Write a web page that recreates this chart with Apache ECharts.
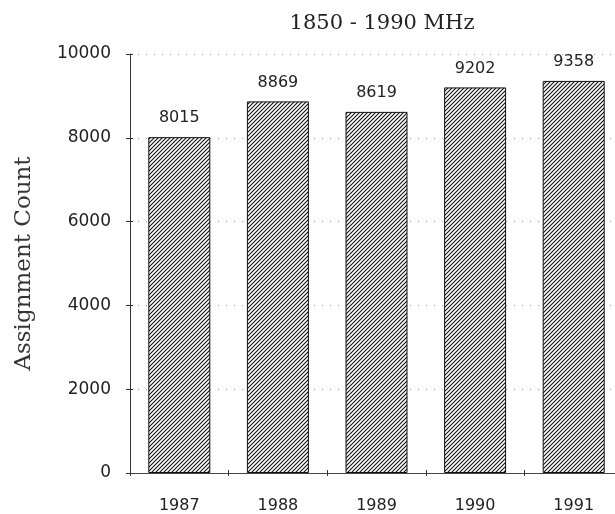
<!DOCTYPE html>
<html>
<head>
<meta charset="utf-8">
<script src="https://cdn.jsdelivr.net/npm/echarts@6/dist/echarts.min.js"></script>
<style>
  html, body { margin: 0; padding: 0; background: #fff; }
  #chart { width: 615px; height: 514px; }
</style>
</head>
<body>
<div id="chart"></div>
<script>
// chart data
const years = ['1987', '1988', '1989', '1990', '1991'];
const counts = [8015, 8869, 8619, 9202, 9358];
const yTicks = [0, 2000, 4000, 6000, 8000, 10000];

// diagonal hatch fill for the bars
function hatch() {
  const s = 4;
  const c = document.createElement('canvas');
  c.width = s;
  c.height = s;
  const ctx = c.getContext('2d');
  ctx.fillStyle = '#fff';
  ctx.fillRect(0, 0, s, s);
  ctx.strokeStyle = '#111';
  ctx.lineWidth = 1.1;
  ctx.beginPath();
  ctx.moveTo(-1, s + 1);
  ctx.lineTo(s + 1, -1);
  ctx.moveTo(-1, 1);
  ctx.lineTo(1, -1);
  ctx.moveTo(s - 1, s + 1);
  ctx.lineTo(s + 1, s - 1);
  ctx.stroke();
  return c;
}

const chart = echarts.init(document.getElementById('chart'));
const digits = 'DejaVu Sans, sans-serif';
const serif = 'DejaVu Serif, Liberation Serif, serif';
const ink = '#222';

chart.setOption({
  animation: false,
  title: {
    text: '1850 - 1990 MHz',
    left: 377,
    top: 8,
    textAlign: 'center',
    textStyle: { fontFamily: serif, fontWeight: 'normal', fontSize: 21, color: ink }
  },
  grid: { left: 130, top: 54, width: 493, height: 419, outerBoundsMode: 'none', containLabel: false },
  xAxis: [
    {
      type: 'category',
      data: years,
      axisLine: { lineStyle: { color: '#444', width: 1 } },
      axisTick: { show: true, length: 3, lineStyle: { color: '#333' } },
      axisLabel: { margin: 25, fontFamily: digits, fontSize: 16, color: ink }
    },
    {
      type: 'category',
      data: years,
      position: 'bottom',
      axisLine: { show: true, lineStyle: { color: 'rgba(0,0,0,0)' } },
      axisTick: { show: true, inside: true, length: 3, lineStyle: { color: '#333' } },
      axisLabel: { show: false }
    }
  ],
  yAxis: [
    {
      type: 'value',
      min: yTicks[0],
      max: yTicks[yTicks.length - 1],
      interval: 2000,
      name: 'Assignment Count',
      nameLocation: 'middle',
      nameGap: 94,
      nameTextStyle: { fontFamily: serif, fontSize: 23, color: '#333' },
      axisLine: { show: true, lineStyle: { color: '#333', width: 1 } },
      axisTick: { show: true, length: 4, lineStyle: { color: '#333' } },
      axisLabel: {
        margin: 19,
        fontFamily: digits,
        fontSize: 17,
        color: ink,
        formatter: v => String(v)
      },
      splitLine: { show: true, lineStyle: { color: '#999', type: [1, 7], width: 1 } }
    },
    {
      type: 'value',
      position: 'left',
      min: yTicks[0],
      max: yTicks[yTicks.length - 1],
      interval: 2000,
      axisLine: { show: true, lineStyle: { color: 'rgba(0,0,0,0)' } },
      axisTick: { show: true, inside: true, length: 3, lineStyle: { color: '#333' } },
      axisLabel: { show: false },
      splitLine: { show: false }
    }
  ],
  series: [{
    type: 'bar',
    data: counts,
    barWidth: 62,
    itemStyle: {
      color: { image: hatch(), repeat: 'repeat' },
      borderColor: '#111',
      borderWidth: 1
    },
    label: {
      show: true,
      position: 'top',
      distance: 11,
      fontFamily: digits,
      fontSize: 16,
      color: ink
    }
  }]
});
</script>
</body>
</html>
